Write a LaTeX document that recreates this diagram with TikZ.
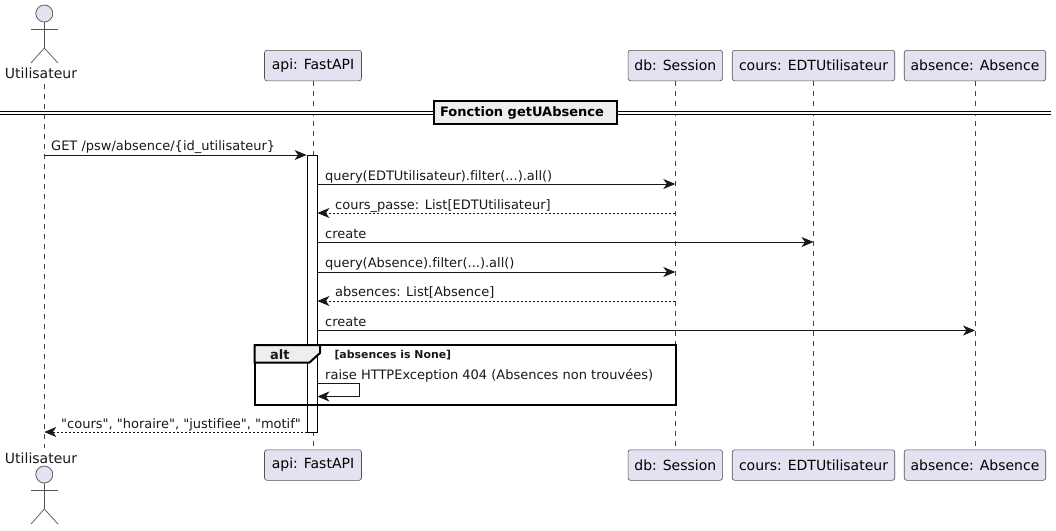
\documentclass[tikz,border=0pt]{standalone}
\usepackage{fontspec}
\setmainfont{DejaVu Sans}[Ligatures={TeXOff,NoCommon}]
\usepackage{xcolor}
\usetikzlibrary{arrows.meta,positioning,calc,backgrounds}
\definecolor{partblue}{RGB}{226,226,240}
\definecolor{lineblk}{RGB}{24,24,24}
\definecolor{tabgray}{RGB}{238,238,238}

\begin{document}
\begin{tikzpicture}[
    x=1pt, y=-1pt,
    part/.style={rectangle, draw=lineblk!75, fill=partblue, rounded corners=2.5pt, line width=0.6pt,
        minimum height=30.5pt, inner sep=0pt, font=\fontsize{14}{16}\selectfont},
    life/.style={draw=lineblk!80, line width=0.6pt, dash pattern=on 5pt off 5pt},
    limb/.style={draw=lineblk!75, line width=0.7pt},
    lbl/.style={anchor=base west, inner sep=0pt, text=lineblk, font=\fontsize{13}{16}\selectfont},
    arr/.style={-{Stealth[length=12pt,width=10pt,inset=3.5pt]}, draw=lineblk, line width=0.8pt},
    ret/.style={arr, dash pattern=on 2pt off 2pt},
    frm/.style={draw=black, line width=2pt},
]
\useasboundingbox (0,0) rectangle (1056,530);

% participants, top row
\node[part, minimum width=97pt, anchor=north] (api) at (313,50) {api: FastAPI};
\node[part, minimum width=94.5pt, anchor=north] (db) at (675.3,50) {db: Session};
\node[part, minimum width=162.5pt, anchor=north] (cours) at (813.5,50) {cours: EDTUtilisateur};
\node[part, minimum width=141.5pt, anchor=north] (absence) at (975,50) {absence: Absence};
% participants, bottom row
\node[part, minimum width=97pt, anchor=north] (apib) at (313,449.5) {api: FastAPI};
\node[part, minimum width=94.5pt, anchor=north] (dbb) at (675.3,449.5) {db: Session};
\node[part, minimum width=162.5pt, anchor=north] (coursb) at (813.5,449.5) {cours: EDTUtilisateur};
\node[part, minimum width=141.5pt, anchor=north] (absenceb) at (975,449.5) {absence: Absence};
% actors
\node[lbl, anchor=base, font=\fontsize{14}{16}\selectfont] (usr) at (41,78.5) {Utilisateur};
\node[lbl, anchor=base, font=\fontsize{14}{16}\selectfont] (usrb) at (41,463) {Utilisateur};
\coordinate (usrline) at (44.3,84);
\coordinate (usrlineb) at (44.3,448);

\node[circle, draw=lineblk!75, fill=partblue, line width=0.7pt, minimum size=17pt, inner sep=0pt] (head) at (44.3,13.5) {};
\coordinate (hip) at (44.3,48);
\draw[limb] (head) -- (hip);
\draw[limb] (31,29) -- (58,29);
\draw[limb] (31,63) -- (hip) -- (58,63);
\node[circle, draw=lineblk!75, fill=partblue, line width=0.7pt, minimum size=17pt, inner sep=0pt] (headb) at (44.3,474.5) {};
\coordinate (hipb) at (44.3,509);
\draw[limb] (headb) -- (hipb);
\draw[limb] (31,490) -- (58,490);
\draw[limb] (31,524) -- (hipb) -- (58,524);

% lifelines
\begin{scope}[on background layer]
\draw[life] (usrline) -- (usrlineb);
\draw[life] (api) -- (apib);
\draw[life] (db) -- (dbb);
\draw[life] (cours) -- (coursb);
\draw[life] (absence) -- (absenceb);
\end{scope}

% divider
\coordinate (divl) at (0,112.8);
\coordinate (divr) at (1051,112.8);
\draw[draw=black, line width=1pt, double distance=2.2pt] (divl) -- (divr);
\node[rectangle, draw=black, fill=tabgray, line width=2pt, minimum width=183pt, minimum height=23pt,
    inner sep=0pt, text height=12pt, text depth=2.5pt,
    font=\fontsize{13}{16}\selectfont\bfseries] (divider) at (525,112.2) {Fonction getUAbsence\kern6pt};

% activation
\node[rectangle, draw=black, fill=white, line width=0.8pt, minimum width=10pt, minimum height=277pt,
    inner sep=0pt, anchor=north] (act) at (312,155) {};

% message rows
\coordinate (r1) at (0,155);
\coordinate (r2) at (0,184);
\coordinate (r3) at (0,213);
\coordinate (r4) at (0,242);
\coordinate (r5) at (0,272);
\coordinate (r6) at (0,301);
\coordinate (r7) at (0,330.5);
\coordinate (r8) at (0,432);

\draw[arr] (usrline |- r1) -- (act.west |- r1);
\node[lbl] (m1) at (51,150.5) {GET /psw/absence/\{id\_utilisateur\}};
\draw[arr] (act.east |- r2) -- (db |- r2);
\node[lbl] (m2) at (325,180) {query(EDTUtilisateur).filter(...).all()};
\draw[ret] (db |- r3) -- (act.east |- r3);
\node[lbl] (m3) at (335,209) {cours\_passe: List[EDTUtilisateur]};
\draw[arr] (act.east |- r4) -- (cours |- r4);
\node[lbl] (m4) at (325,238) {create};
\draw[arr] (act.east |- r5) -- (db |- r5);
\node[lbl] (m5) at (325,267.5) {query(Absence).filter(...).all()};
\draw[ret] (db |- r6) -- (act.east |- r6);
\node[lbl] (m6) at (335,296.5) {absences: List[Absence]};
\draw[arr] (act.east |- r7) -- (absence |- r7);
\node[lbl] (m7) at (325,326) {create};

% alt frame
\coordinate (altnw) at (254.5,345);
\coordinate (altse) at (676,404.5);
\draw[frm] (altnw) rectangle (altse);
\draw[frm, fill=tabgray] (altnw) -- (320,345) -- (320,353) -- (309.5,362.5) -- (254.5,362.5) -- cycle;
\node[lbl, font=\fontsize{13}{16}\selectfont\bfseries] (altlbl) at (270,359) {alt};
\node[lbl, font=\fontsize{10.9}{12}\selectfont\bfseries] (guard) at (334.3,358) {[absences is None]};

% self message
\coordinate (s1) at (359.5,383);
\coordinate (s2) at (359.5,396.5);
\draw[arr] (act.east |- s1) -- (s1) -- (s2) -- (act.east |- s2);
\node[lbl] (m8) at (325,379) {raise HTTPException 404 (Absences non trouvées)};

% return
\draw[ret] (act.west |- r8) -- (usrline |- r8);
\node[lbl] (m9) at (61,428) {"cours", "horaire", "justifiee", "motif"};
\end{tikzpicture}
\end{document}
